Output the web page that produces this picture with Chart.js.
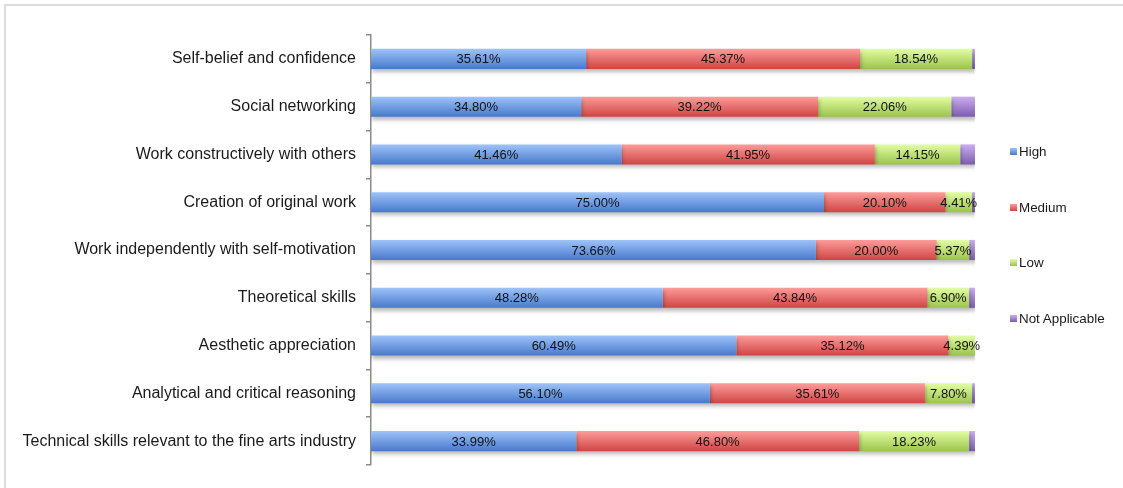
<!DOCTYPE html>
<html>
<head>
<meta charset="utf-8">
<script src="https://cdn.jsdelivr.net/npm/chart.js@4"></script>
<style>
  html, body { margin: 0; padding: 0; background: #fff; }
  #wrap { position: relative; width: 1123px; height: 488px; overflow: hidden; }
  #frame { position: absolute; left: 4px; top: 4px; right: -10px; bottom: -10px; border-top: 2px solid #dcdcdc; border-left: 2px solid #dcdcdc; }
  canvas { position: absolute; left: 0; top: 0; }
  .leg { position: absolute; left: 1010px; font: 13.4px "Liberation Sans", Arial, sans-serif; color: #1a1a1a; line-height: 14px; white-space: nowrap; }
  .leg span.box { display: inline-block; width: 7px; height: 7px; margin-right: 2px; vertical-align: 1px; }
</style>
</head>
<body>
<div id="wrap">
  <div id="frame"></div>
  <canvas id="c" width="1123" height="488"></canvas>
  <div id="legend"></div>
</div>
<script>
const categories = [
  "Self-belief and confidence",
  "Social networking",
  "Work constructively with others",
  "Creation of original work",
  "Work independently with self-motivation",
  "Theoretical skills",
  "Aesthetic appreciation",
  "Analytical and critical reasoning",
  "Technical skills relevant to the fine arts industry"
];
const seriesNames = ["High", "Medium", "Low", "Not Applicable"];
const high   = [35.61, 34.80, 41.46, 75.00, 73.66, 48.28, 60.49, 56.10, 33.99];
const medium = [45.37, 39.22, 41.95, 20.10, 20.00, 43.84, 35.12, 35.61, 46.80];
const low    = [18.54, 22.06, 14.15,  4.41,  5.37,  6.90,  4.39,  7.80, 18.23];
const notApplicable = [0.48, 3.92, 2.44, 0.49, 0.97, 0.98, 0.00, 0.49, 0.98];
const showLabel = [true, true, true, false];

const palette = [
  ["#9ec3f8", "#4779cc"],
  ["#fc9c9a", "#cf4543"],
  ["#e2fda4", "#9cc44c"],
  ["#cbaeee", "#7d5cae"]
];

function grad(ctx, idx) {
  const chart = ctx.chart;
  const ys = chart.scales && chart.scales.y;
  if (!ys || !chart.chartArea || ctx.dataIndex === undefined) return palette[idx][1];
  const yc = ys.getPixelForValue(ctx.dataIndex);
  const g = chart.ctx.createLinearGradient(0, yc - 10, 0, yc + 10);
  g.addColorStop(0, palette[idx][0]);
  g.addColorStop(1, palette[idx][1]);
  return g;
}

const seriesData = [high, medium, low, notApplicable];
const datasets = seriesData.map((d, i) => ({
  label: seriesNames[i],
  data: d,
  backgroundColor: (ctx) => grad(ctx, i),
  borderWidth: 0,
  categoryPercentage: 1,
  barPercentage: 0.42
}));

const shadowPlugin = {
  id: 'shadow',
  beforeDatasetsDraw(chart) {
    const c = chart.ctx;
    c.save();
    c.shadowColor = 'rgba(0,0,0,0.28)';
    c.shadowBlur = 4;
    c.shadowOffsetX = 1;
    c.shadowOffsetY = 3;
  },
  afterDatasetsDraw(chart) {
    chart.ctx.restore();
  }
};

const labelPlugin = {
  id: 'barLabels',
  afterDatasetsDraw(chart) {
    const c = chart.ctx;
    c.save();
    c.font = '13px "Liberation Sans", Arial, sans-serif';
    c.fillStyle = '#111';
    c.textAlign = 'center';
    c.textBaseline = 'middle';
    chart.data.datasets.forEach((ds, di) => {
      if (!showLabel[di]) return;
      const meta = chart.getDatasetMeta(di);
      meta.data.forEach((el, i) => {
        const v = ds.data[i];
        if (!v) return;
        const x = (el.x + el.base) / 2;
        c.fillText(v.toFixed(2) + '%', x, el.y + 1);
      });
    });
    c.restore();
  }
};

new Chart(document.getElementById('c'), {
  type: 'bar',
  data: { labels: categories, datasets },
  options: {
    indexAxis: 'y',
    responsive: false,
    animation: false,
    events: [],
    layout: { padding: { left: 10, right: 148, top: 35, bottom: 23 } },
    plugins: { legend: { display: false }, tooltip: { enabled: false } },
    scales: {
      x: { stacked: true, min: 0, max: 100, display: false },
      y: {
        stacked: true,
        offset: true,
        afterFit: (s) => { s.width = 361; },
        grid: { offset: true, drawOnChartArea: false, tickLength: 5, color: '#8a8a8a', lineWidth: 1.5 },
        border: { display: true, color: '#8a8a8a', width: 1.5 },
        ticks: { color: '#1a1a1a', padding: 10, font: { family: '"Liberation Sans", Arial, sans-serif', size: 16 } }
      }
    }
  },
  plugins: [shadowPlugin, labelPlugin]
});

const legendY = [152, 208, 263, 319];
const legendEl = document.getElementById('legend');
seriesNames.forEach((n, i) => {
  const d = document.createElement('div');
  d.className = 'leg';
  d.style.top = (legendY[i] - 7) + 'px';
  d.innerHTML = '<span class="box" style="background:linear-gradient(' + palette[i][0] + ',' + palette[i][1] + ')"></span>' + n;
  legendEl.appendChild(d);
});
</script>
</body>
</html>
